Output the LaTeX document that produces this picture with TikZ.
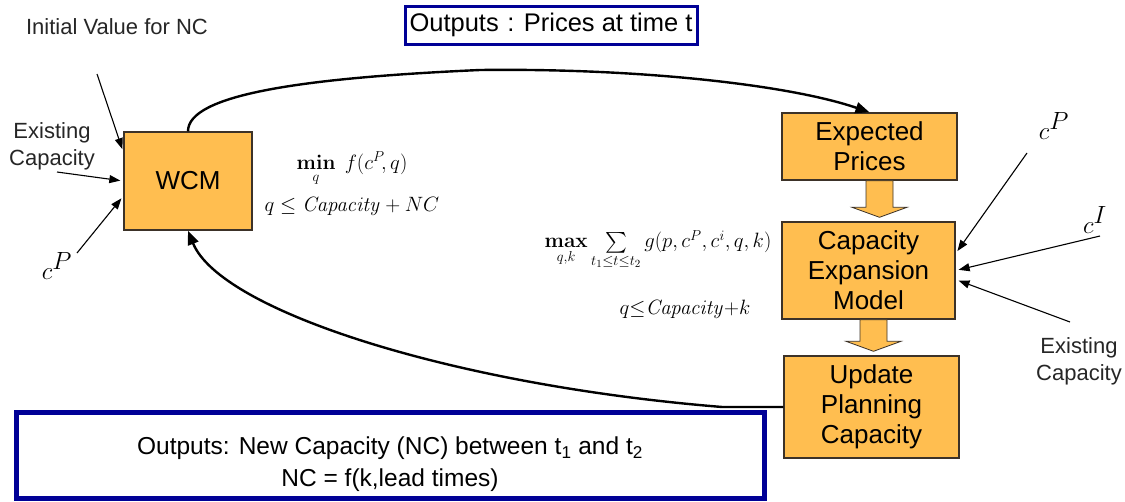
\documentclass[tikz,border=0pt]{standalone}
\usepackage{amsmath}
\usepackage[no-math]{fontspec}
\setmainfont{Liberation Sans}
\usetikzlibrary{arrows.meta,positioning,calc}
\definecolor{boxfill}{RGB}{255,190,80}
\definecolor{boxedge}{RGB}{60,50,40}
\definecolor{outblue}{RGB}{0,0,150}

\begin{document}
\begin{tikzpicture}[
  x=1pt, y=-1pt,
  blk/.style={draw=boxedge, line width=1.4pt, fill=boxfill, align=center,
    inner sep=0pt, font=\fontsize{26}{30}\selectfont},
  outbox/.style={draw=outblue, inner sep=0pt, align=center},
  lbl/.style={font=\fontsize{22}{27}\selectfont, align=center, text=black!85},
  mth/.style={font=\fontsize{21}{26}\selectfont, align=center},
  big/.style={font=\fontsize{38}{40}\selectfont},
  feed/.style={-{Triangle[length=11pt,width=8pt]}, line width=1.1pt, shorten >=3pt},
  flow/.style={-{Triangle[length=14pt,width=11pt]}, line width=2.4pt},
  blkarr/.style={draw=boxedge, line width=0.8pt, fill=boxfill},
]
\useasboundingbox (0,0) rectangle (1125,501);
% model boxes
\node[blk, minimum width=128pt, minimum height=98pt] (wcm) at (188,181) {WCM};
\node[blk, minimum width=175pt, minimum height=67pt] (ep) at (869.5,146.5) {Expected\\Prices};
\node[blk, minimum width=173pt, minimum height=97pt] (cem) at (868.5,270.5) {Capacity\\Expansion\\Model};
\node[blk, minimum width=175pt, minimum height=102pt] (upc) at (871.5,407) {Update\\Planning\\Capacity};
% output boxes
\node[outbox, line width=3pt, minimum width=292pt, minimum height=38pt,
  font=\fontsize{25.5}{28}\selectfont] (outp) at (551,25) {Outputs\,\,: Prices at time t};
\node[outbox, line width=5pt, minimum width=748pt, minimum height=86pt] (outc) at (390,455) {};
\node[align=center, font=\fontsize{24.5}{32}\selectfont] (outct) at ([yshift=-9pt]outc.center)
  {Outputs: New Capacity (NC) between t\textsubscript{1} and t\textsubscript{2}\\NC = f(k,lead times)};
% block arrows between model boxes
\foreach \a/\b/\dx in {ep/cem/10, cem/upc/5} {
  \coordinate (top) at ($(\a.south)+(\dx,0)$);
  \coordinate (tip) at ($(top |- \b.north)+(0,-4)$);
  \path[blkarr] ($(top)+(-13.5,0)$) -- ($(tip)+(-13.5,-10)$) -- ($(tip)+(-27.5,-10)$)
    -- (tip) -- ($(tip)+(27.5,-10)$) -- ($(tip)+(13.5,-10)$) -- ($(top)+(13.5,0)$) -- cycle;
}
% main loop
\draw[flow] (wcm.north) .. controls (188,95) and (300,78) .. (480,70)
  .. controls (640,68) and (790,85) .. (ep.north);
\draw[flow] (upc.west) -- ++(-61,0) .. controls (450,385) and (220,310) .. (wcm.south);
% optimisation problems
\node[mth] (minp) at (352,184)
  {$\mathop{\mathbf{min}}\limits_{q}\; f(c^{P}\!,q)$\\[10pt]$q\le \mathit{Capacity}+NC$};
\node[mth] (maxp) at (658,250)
  {$\mathop{\mathbf{max}}\limits_{q,k}\textstyle\sum\limits_{t_1\le t\le t_2} g(p,c^{P},c^{i},q,k)$};
\node[mth] (maxc) at (685,309) {$q{\le}\mathit{Capacity}{+}k$};
% inputs to WCM
\node[lbl] (ivl) at (117,27) {Initial Value for NC};
\node[lbl] (exl) at (52,146) {Existing\\Capacity};
\node[big] (cpl) at (57,266) {$c^{P}$};
\coordinate (ivt) at (97,74);
\coordinate (ext) at (57,172);
\coordinate (cpt) at (77,253);
\draw[feed] (ivt) -- ([yshift=29pt]wcm.west);
\draw[feed] (ext) -- (wcm.west);
\draw[feed] (cpt) -- ([yshift=-15pt]wcm.west);
% inputs to capacity expansion
\node[big] (cpr) at (1054,126) {$c^{P}$};
\node[big] (cir) at (1095,220) {$c^{I}$};
\node[lbl] (exr) at (1079,361) {Existing\\Capacity};
\coordinate (cprt) at (1027,153);
\coordinate (cirt) at (1100,236);
\coordinate (exrt) at (1070,322);
\draw[feed] (cprt) -- ([yshift=17pt]cem.east);
\draw[feed] (cirt) -- (cem.east);
\draw[feed] (exrt) -- ([yshift=-9pt]cem.east);
\end{tikzpicture}
\end{document}
